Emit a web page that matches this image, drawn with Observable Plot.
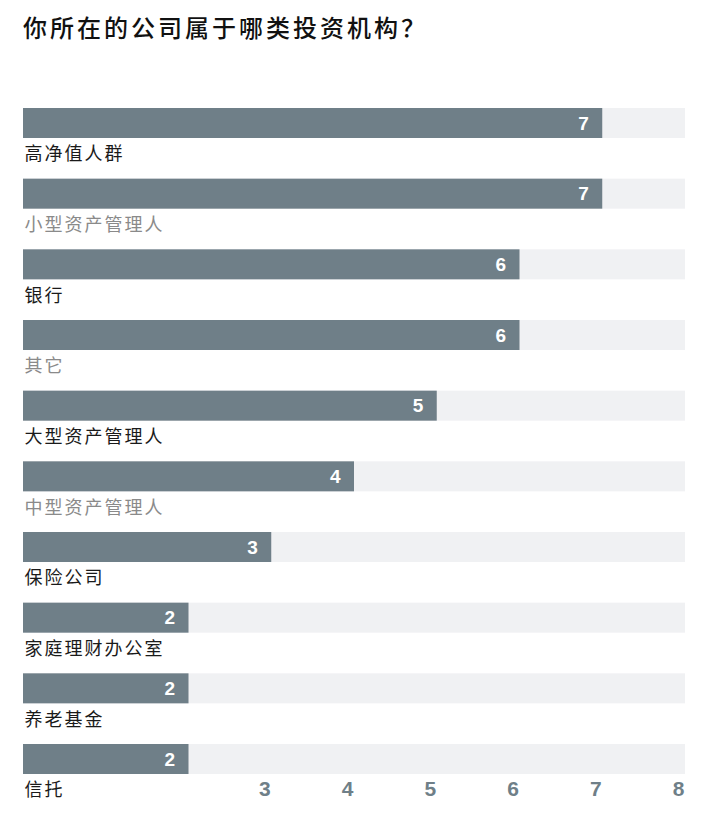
<!DOCTYPE html>
<html>
<head>
<meta charset="utf-8">
<script src="https://cdn.jsdelivr.net/npm/d3@7"></script>
<script src="https://cdn.jsdelivr.net/npm/@observablehq/plot@0.6"></script>
<style>
  html, body { margin: 0; padding: 0; background: #fff; }
  #title {
    height: 56px; box-sizing: border-box;
    padding: 12px 0 0 23px;
    font-family: "Noto Sans CJK SC", sans-serif;
    font-size: 24px; line-height: 30px; font-weight: 500; color: #111;
    letter-spacing: 3px;
  }
  #chart svg { display: block; }
</style>
</head>
<body>
<div id="title">你所在的公司属于哪类投资机构？</div>
<div id="chart"></div>
<script>
const categories = ["高净值人群", "小型资产管理人", "银行", "其它", "大型资产管理人", "中型资产管理人", "保险公司", "家庭理财办公室", "养老基金", "信托"];
const counts = [7, 7, 6, 6, 5, 4, 3, 2, 2, 2];
const mutedLabels = ["小型资产管理人", "其它", "中型资产管理人"];
const tickValues = [3, 4, 5, 6, 7, 8];

const xMax = d3.max(tickValues);
const data = categories.map((c, i) => ({category: c, value: counts[i], max: xMax, muted: mutedLabels.includes(c)}));

const barColor = "#6f7f88";
const numFont = "'Liberation Sans Narrow', 'Arial Narrow', 'Liberation Sans', Arial, sans-serif";

const chart = Plot.plot({
  width: 709,
  height: 758,
  marginLeft: 23,
  marginRight: 24,
  marginTop: 52,
  marginBottom: 40,
  x: {domain: [0, xMax], axis: null},
  y: {domain: categories, axis: null, paddingInner: 0.5755, paddingOuter: 0, round: false},
  marks: [
    Plot.barX(data, {y: "category", x1: 0, x2: "max", fill: "#f0f1f3"}),
    Plot.barX(data, {y: "category", x1: 0, x2: "value", fill: barColor}),
    Plot.text(data, {
      y: "category", x: "value", text: d => String(d.value),
      textAnchor: "end", dx: -14, fill: "white",
      fontSize: 19, fontWeight: "bold", fontFamily: numFont
    }),
    Plot.text(data, {
      y: "category", x: 0, text: "category",
      textAnchor: "start", dy: 31, dx: 1,
      fill: d => d.muted ? "#8a8a8a" : "#1a1a1a",
      fontSize: 18, fontFamily: "'Noto Sans CJK SC', sans-serif",
      fontWeight: 400
    }),
    Plot.text(tickValues, {
      x: d => d, text: d => String(d),
      frameAnchor: "bottom", lineAnchor: "middle", dy: 15, dx: -1,
      textAnchor: "end",
      fill: barColor, fontSize: 21, fontWeight: "bold",
      fontFamily: numFont
    })
  ]
});
document.getElementById("chart").appendChild(chart);
const groups = chart.querySelectorAll("g[aria-label='text']");
if (groups[1]) groups[1].setAttribute("letter-spacing", "2");
</script>
</body>
</html>
